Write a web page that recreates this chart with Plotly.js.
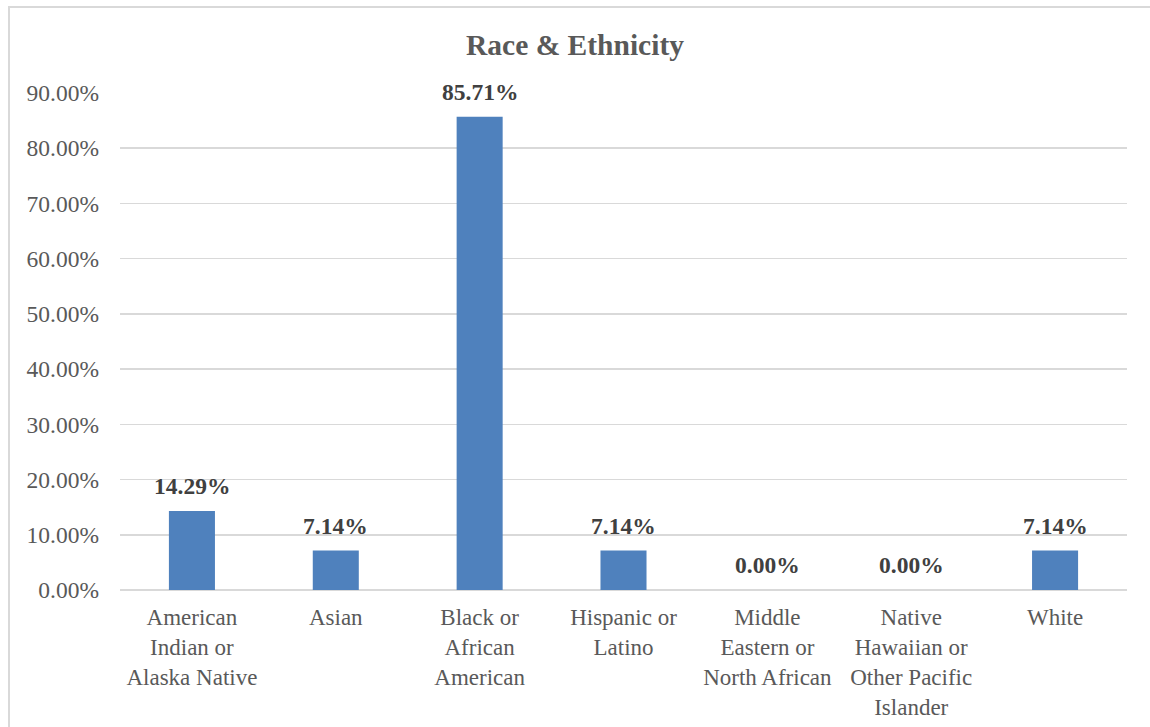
<!DOCTYPE html>
<html>
<head>
<meta charset="utf-8">
<script src="https://cdn.plot.ly/plotly-3.0.1.min.js"></script>
<style>
html,body{margin:0;padding:0;background:#fff;}
#frame{position:absolute;left:8px;top:6px;width:1200px;height:800px;border-left:2px solid #d9d9d9;border-top:2px solid #d9d9d9;box-sizing:border-box;}
#chart{position:absolute;left:0;top:0;width:1150px;height:727px;}
</style>
</head>
<body>
<div id="frame"></div>
<div id="chart"></div>
<script>
var categories = [
  "American<br>Indian or<br>Alaska Native",
  "Asian",
  "Black or<br>African<br>American",
  "Hispanic or<br>Latino",
  "Middle<br>Eastern or<br>North African",
  "Native<br>Hawaiian or<br>Other Pacific<br>Islander",
  "White"
];
var values = [0.1429, 0.0714, 0.8571, 0.0714, 0.0, 0.0, 0.0714];
var tickVals = [0, 0.1, 0.2, 0.3, 0.4, 0.5, 0.6, 0.7, 0.8, 0.9];

var serif = "Liberation Serif, Times New Roman, serif";

var trace = {
  type: 'bar',
  x: categories,
  y: values,
  marker: {color: '#4f81bd'},
  hoverinfo: 'none'
};

var annotations = categories.map(function(c, i){
  return {
    x: c, y: values[i], xref: 'x', yref: 'y',
    text: '<b>' + (values[i]*100).toFixed(2) + '%</b>',
    showarrow: false, yanchor: 'bottom', yshift: 10,
    font: {family: serif, size: 23.5, color: '#404040'}
  };
});

var layout = {
  width: 1150, height: 727,
  margin: {l: 120, r: 23, t: 93, b: 137},
  paper_bgcolor: 'rgba(0,0,0,0)',
  plot_bgcolor: 'rgba(0,0,0,0)',
  font: {family: serif, size: 23, color: '#595959'},
  bargap: 0.68,
  showlegend: false,
  title: {
    text: '<b>Race &amp; Ethnicity</b>',
    x: 0.5, xanchor: 'center', y: 1 - 45/727, yanchor: 'middle',
    yref: 'container',
    font: {family: serif, size: 29.5, color: '#595959'}
  },
  xaxis: {
    type: 'category',
    tickfont: {family: serif, size: 23, color: '#595959'},
    showgrid: false,
    showline: false,
    ticks: '',
    ticklabelstandoff: 11
  },
  yaxis: {
    range: [0, 0.9],
    tickvals: tickVals,
    tickformat: '.2%',
    tickfont: {family: serif, size: 23.5, color: '#595959'},
    showgrid: true,
    gridcolor: '#d9d9d9',
    gridwidth: 1.5,
    zeroline: true,
    zerolinecolor: '#d9d9d9',
    zerolinewidth: 1.5,
    showline: false,
    ticks: '',
    ticklabelstandoff: 20
  },
  annotations: annotations
};

Plotly.newPlot('chart', [trace], layout, {displayModeBar: false, staticPlot: true});
</script>
</body>
</html>
